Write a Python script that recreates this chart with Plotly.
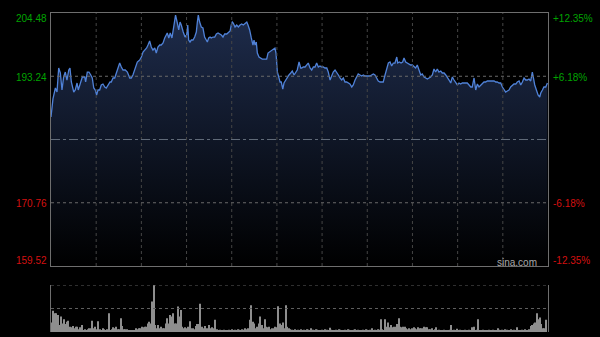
import plotly.graph_objects as go

# ---------------- data ----------------
prev_close = 182.00
price_levels = [204.48, 193.24, 170.76, 159.52]
price_labels = ["204.48", "193.24", "170.76", "159.52"]
pct_labels = ["+12.35%", "+6.18%", "-6.18%", "-12.35%"]
label_colors = ["#00a400", "#00a400", "#d41010", "#d41010"]
time_grid = [30, 60, 90, 120, 150, 180, 210, 240, 270, 300]

minute = [
    0, 1.3, 2.9, 4.0, 5.1, 6.2, 7.3, 8.4, 9.5, 10.6, 11.8, 12.6, 13.5, 15.1, 16.1, 17.3, 18.1, 19.5,
    20.8, 22.4, 23.0, 24.1, 25.2, 26.4, 27.4, 28.4, 29.4, 30.3, 31.2, 32.3, 33.4, 34.5, 35.7, 36.7,
    37.8, 39.2, 40.0, 41.2, 42.3, 43.4, 44.5, 45.6, 46.7, 47.8, 49.3, 50.7, 52.3, 53.3, 54.4, 56.0,
    57.3, 58.9, 60.0, 61.1, 62.2, 63.5, 64.4, 65.5, 66.6, 67.7, 68.9, 69.9, 71.0, 72.2, 73.2, 74.4,
    75.5, 76.6, 77.2, 78.2, 79.2, 80.3, 81.5, 82.7, 83.9, 84.8, 85.7, 86.5, 87.8, 89.0, 90.1, 90.8,
    91.4, 92.3, 93.2, 94.3, 95.4, 96.5, 97.1, 97.8, 98.7, 99.8, 100.9, 102.0, 103.1, 103.8, 104.7,
    105.6, 106.4, 107.6, 108.7, 109.8, 110.9, 112.0, 113.1, 114.2, 115.3, 116.7, 117.7, 118.9,
    119.7, 120.4, 121.0, 122.2, 123.3, 124.4, 125.5, 126.6, 127.7, 128.8, 130.0, 130.8, 131.9,
    133.0, 134.1, 134.8, 135.5, 136.3, 137.0, 138.1, 139.2, 140.3, 141.9, 143.2, 144.1, 145.2,
    146.5, 147.6, 148.7, 149.4, 150.3, 151.2, 152.1, 152.9, 153.9, 154.7, 155.8, 156.9, 158.0,
    159.2, 160.2, 161.4, 162.5, 163.5, 164.7, 165.8, 166.5, 167.5, 168.7, 169.8, 170.8, 172.0,
    173.1, 174.2, 175.3, 176.4, 177.5, 178.6, 179.7, 180.8, 181.9, 183.1, 184.1, 185.3, 186.4,
    187.4, 188.6, 189.7, 190.8, 191.9, 193.0, 194.1, 195.2, 196.3, 197.4, 198.5, 199.7, 200.7,
    201.9, 203.0, 204.0, 205.2, 206.3, 207.4, 208.5, 209.6, 210.7, 211.8, 212.9, 214.0, 215.1,
    216.3, 217.3, 218.5, 219.6, 220.6, 221.8, 222.9, 224.0, 225.1, 226.2, 227.3, 228.4, 229.6,
    230.2, 231.3, 232.4, 233.5, 234.4, 235.5, 236.6, 237.7, 238.8, 239.9, 241.0, 242.1, 243.2,
    244.4, 245.5, 246.5, 247.7, 248.8, 249.9, 251.0, 252.1, 253.2, 254.3, 255.4, 256.5, 257.6,
    258.8, 259.8, 261.0, 262.1, 263.1, 264.3, 265.4, 266.5, 267.6, 268.7, 269.8, 270.9, 272.0,
    273.1, 274.2, 275.4, 276.4, 277.6, 278.7, 279.7, 280.9, 282.0, 283.1, 284.2, 285.3, 286.4,
    287.5, 288.6, 289.7, 290.8, 292.0, 293.0, 294.2, 295.3, 296.3, 297.5, 298.6, 299.7, 300.8,
    301.9, 303.0, 304.1, 305.2, 306.3, 307.4, 308.6, 309.6, 310.8, 311.9, 313.0, 314.1, 315.2,
    316.3, 317.4, 318.5, 319.6, 320.3, 321.2, 322.3, 323.4, 324.5, 325.2, 326.3, 327.3, 328.5, 329.6,
]
price = [
    186.00, 189.20, 191.15, 190.44, 194.71, 193.82, 190.80, 193.11, 193.99, 192.57, 194.35, 194.71,
    192.22, 190.44, 190.80, 192.04, 190.80, 192.22, 193.11, 193.11, 192.22, 193.99, 193.99, 193.46,
    192.93, 191.15, 190.80, 189.91, 190.80, 190.80, 191.69, 191.86, 191.33, 191.15, 191.69, 192.22,
    192.22, 192.93, 192.93, 193.82, 194.71, 195.59, 194.88, 194.35, 194.35, 193.99, 192.93, 192.93,
    193.46, 194.88, 195.77, 196.13, 196.66, 197.55, 197.90, 198.26, 198.79, 199.50, 198.44, 197.90,
    198.26, 197.37, 198.44, 198.79, 198.79, 199.15, 200.04, 200.57, 200.92, 200.04, 200.92, 200.04,
    201.99, 204.12, 202.70, 201.46, 202.88, 202.35, 201.10, 200.21, 200.57, 202.35, 199.68, 199.33,
    199.68, 199.68, 200.21, 201.10, 202.70, 204.12, 202.88, 201.99, 201.81, 200.21, 199.68, 199.33,
    200.04, 200.21, 200.04, 200.21, 200.21, 200.75, 200.92, 200.75, 200.57, 200.21, 200.75, 200.75,
    200.92, 201.28, 202.35, 202.88, 202.70, 201.99, 202.35, 201.99, 202.35, 202.53, 202.35, 202.70,
    202.88, 202.35, 201.46, 200.04, 198.79, 199.68, 198.79, 199.33, 197.37, 196.66, 196.48, 196.30,
    196.30, 196.30, 197.37, 197.55, 197.90, 198.08, 198.26, 197.37, 193.99, 193.11, 192.22, 192.22,
    190.97, 192.04, 192.57, 193.11, 193.46, 193.82, 194.17, 193.46, 193.99, 194.35, 195.77, 194.71,
    194.71, 194.88, 194.88, 195.24, 195.59, 194.71, 194.35, 194.88, 194.88, 195.59, 194.88, 195.06,
    194.88, 194.88, 194.71, 194.71, 193.99, 192.57, 193.46, 193.99, 194.35, 193.99, 193.46, 192.93,
    192.57, 192.93, 192.22, 192.22, 192.04, 191.86, 191.33, 191.69, 192.57, 193.11, 193.64, 193.46,
    193.28, 193.46, 193.28, 193.28, 193.28, 193.28, 193.46, 193.64, 193.46, 192.93, 192.40, 192.22,
    192.22, 192.22, 193.46, 194.71, 195.59, 195.77, 195.06, 195.59, 195.59, 196.66, 195.59, 195.77,
    195.59, 195.77, 196.48, 195.77, 195.59, 195.42, 195.24, 195.24, 194.88, 194.71, 195.24, 194.35,
    193.46, 193.64, 193.11, 192.93, 192.75, 192.93, 193.11, 193.46, 194.53, 193.99, 194.53, 193.99,
    194.17, 193.82, 193.82, 193.46, 193.11, 192.57, 192.04, 193.11, 192.57, 192.04, 191.69, 192.04,
    191.86, 192.04, 192.04, 192.04, 192.04, 191.69, 191.33, 191.33, 192.93, 190.80, 191.86, 191.33,
    191.69, 192.04, 192.22, 192.22, 192.40, 192.40, 192.40, 192.40, 192.40, 192.22, 192.22, 192.04,
    192.04, 191.33, 190.80, 190.44, 190.62, 190.80, 191.33, 191.69, 191.86, 191.86, 192.22, 192.40,
    191.69, 192.22, 192.93, 192.57, 192.57, 192.75, 192.40, 193.99, 192.57, 191.69, 190.80, 189.91,
    189.55, 190.26, 190.80, 191.33, 191.33, 192.04,
]

# volume per minute (relative units, 0..100)
volume = [
    20, 45, 40, 40, 36, 15, 33, 18, 27, 17,
    22, 24, 11, 10, 13, 8, 11, 11, 6, 10,
    15, 4, 6, 3, 6, 8, 8, 24, 8, 11,
    6, 23, 6, 4, 8, 6, 4, 6, 40, 4,
    6, 10, 8, 11, 6, 6, 29, 13, 6, 6,
    6, 4, 3, 3, 3, 4, 8, 6, 8, 8,
    11, 10, 11, 11, 18, 22, 18, 65, 100, 15,
    8, 15, 8, 11, 8, 8, 18, 29, 18, 36,
    33, 40, 18, 18, 54, 33, 47, 11, 8, 10,
    8, 11, 23, 8, 8, 6, 13, 17, 17, 60,
    11, 8, 13, 8, 8, 15, 8, 10, 8, 26,
    6, 4, 5, 3, 4, 5, 4, 3, 5, 4,
    6, 4, 5, 4, 6, 5, 4, 6, 5, 8,
    6, 8, 26, 57, 22, 18, 8, 11, 18, 33,
    15, 8, 27, 11, 10, 11, 6, 8, 8, 11,
    10, 55, 18, 15, 20, 8, 57, 11, 8, 6,
    5, 4, 6, 4, 5, 4, 6, 3, 5, 4,
    6, 5, 4, 8, 5, 4, 6, 5, 4, 3,
    5, 4, 6, 5, 4, 9, 5, 4, 3, 5,
    4, 6, 5, 4, 3, 5, 4, 6, 5, 4,
    3, 5, 6, 4, 5, 4, 3, 5, 4, 6,
    5, 4, 5, 8, 4, 5, 4, 6, 5, 27,
    6, 4, 27, 11, 20, 10, 15, 10, 11, 11,
    17, 29, 11, 10, 11, 11, 8, 6, 8, 6,
    8, 10, 8, 6, 10, 8, 8, 8, 11, 10,
    10, 6, 6, 8, 4, 6, 10, 4, 5, 4,
    3, 5, 4, 3, 4, 5, 15, 4, 5, 3,
    7, 4, 5, 3, 4, 5, 3, 4, 5, 4,
    10, 11, 4, 5, 27, 4, 3, 5, 4, 3,
    4, 5, 3, 4, 5, 4, 3, 8, 5, 4,
    5, 4, 6, 5, 3, 4, 6, 4, 5, 4,
    10, 4, 3, 5, 4, 6, 3, 4, 6, 13,
    15, 18, 20, 40, 27, 31, 17, 8, 8, 26,
]
vol_minute = list(range(len(volume)))
vol_grid = [50, 100]

# ---------------- figure ----------------
fig = go.Figure()

fig.add_trace(go.Scatter(
    x=minute, y=price, mode="lines",
    line=dict(color="#5082d8", width=1.3),
    fill="tozeroy",
    fillgradient=dict(type="vertical",
                      colorscale=[[0, "rgba(0,0,0,1)"], [1, "rgba(30,44,76,1)"]],
                      start=price_levels[3], stop=price_levels[0]),
    hoverinfo="skip", xaxis="x", yaxis="y",
))

fig.add_trace(go.Bar(
    x=vol_minute, y=volume, marker=dict(color="#8e8e8e", line=dict(width=0)),
    xaxis="x2", yaxis="y2", hoverinfo="skip",
))

X0, X1 = 51 / 600, 548 / 600
fig.update_layout(
    width=600, height=337,
    margin=dict(l=0, r=0, t=0, b=0),
    paper_bgcolor="black", plot_bgcolor="black",
    showlegend=False, bargap=0.3,
    font=dict(family="Liberation Sans, Arial, sans-serif", size=10),
    xaxis=dict(domain=[X0, X1], range=[0, 330], showgrid=False, zeroline=False,
               showticklabels=False, ticks="", showline=True, mirror=True,
               linecolor="#6e6e6e", linewidth=1, anchor="y"),
    yaxis=dict(domain=[1 - 266 / 337, 1 - 13 / 337],
               range=[price_levels[3], price_levels[0]], showgrid=False,
               zeroline=False, showticklabels=False, ticks="", showline=True,
               mirror=True, linecolor="#6e6e6e", linewidth=1, anchor="x"),
    xaxis2=dict(domain=[X0, X1], range=[-0.5, 330.5], showgrid=False, zeroline=False,
                showticklabels=False, ticks="", showline=False, anchor="y2"),
    yaxis2=dict(domain=[1 - 332 / 337, 1 - 285 / 337], range=[0, 100],
                showgrid=False, zeroline=False, showticklabels=False,
                ticks="", showline=True, mirror=True, linecolor="#6e6e6e",
                linewidth=1, anchor="x2"),
)

shapes = []
for t in time_grid:
    shapes.append(dict(type="line", xref="x", yref="y domain", x0=t, x1=t, y0=0, y1=1,
                       line=dict(color="#464646", width=1, dash="dot"), layer="above"))
for lv in price_levels[1:3]:
    shapes.append(dict(type="line", xref="x domain", yref="y", x0=0, x1=1, y0=lv, y1=lv,
                       line=dict(color="#6a6a6a", width=1, dash="dot"), layer="above"))
shapes.append(dict(type="line", xref="x domain", yref="y", x0=0, x1=1,
                   y0=prev_close, y1=prev_close,
                   line=dict(color="#606a78", width=1.2, dash="dashdot"), layer="above"))
for v in vol_grid:
    shapes.append(dict(type="line", xref="x2 domain", yref="y2", x0=0, x1=1, y0=v, y1=v,
                       line=dict(color="#5e5e5e", width=1, dash="dot"), layer="above"))
fig.update_layout(shapes=shapes)

label_y = [19, 77, 203, 260]
ann = []
for lab, pct, col, yy in zip(price_labels, pct_labels, label_colors, label_y):
    ann.append(dict(xref="paper", yref="paper", x=48 / 600, y=1 - yy / 337,
                    xanchor="right", yanchor="middle", text=lab, showarrow=False,
                    font=dict(color=col, size=10), borderpad=0))
    ann.append(dict(xref="paper", yref="paper", x=552 / 600, y=1 - yy / 337,
                    xanchor="left", yanchor="middle", text=pct, showarrow=False,
                    font=dict(color=col, size=10), borderpad=0))
ann.append(dict(xref="paper", yref="paper", x=538 / 600, y=1 - 262 / 337,
                xanchor="right", yanchor="middle", text="sina.com", showarrow=False,
                font=dict(color="#a8a8a8", size=10), borderpad=0))
fig.update_layout(annotations=ann)

fig.write_html("out.html")
